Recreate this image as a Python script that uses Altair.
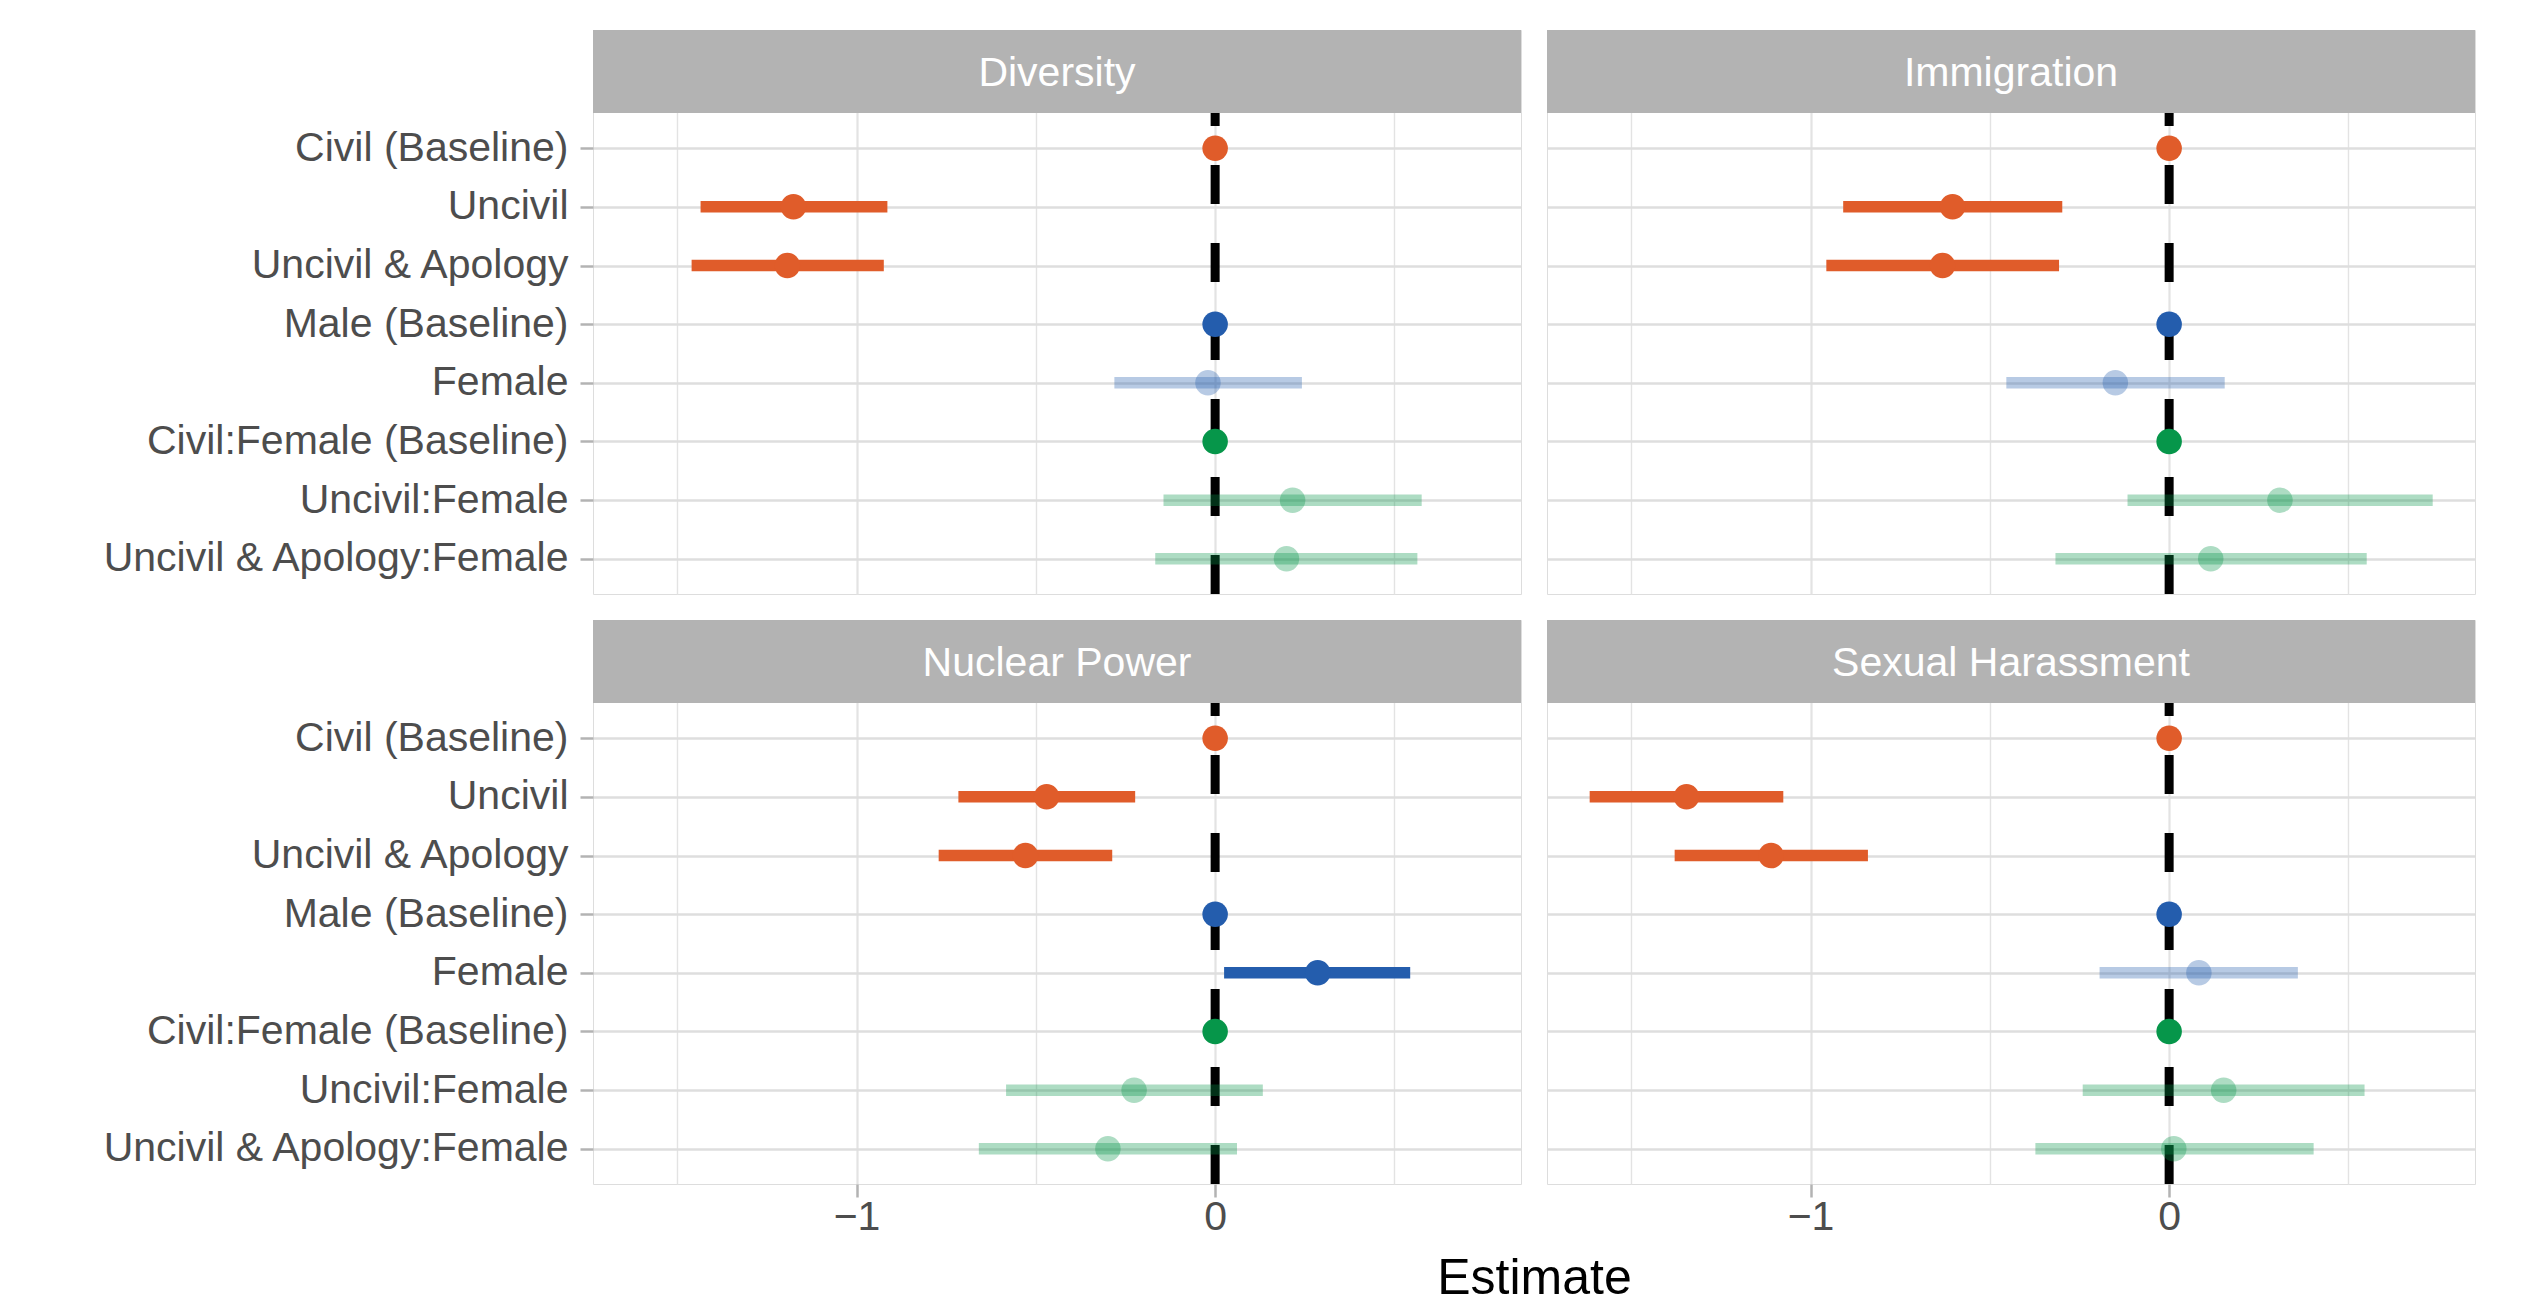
import json
import altair as alt
import pandas as pd

# ---------------- data ----------------
terms = ["Civil (Baseline)", "Uncivil", "Uncivil & Apology", "Male (Baseline)",
         "Female", "Civil:Female (Baseline)", "Uncivil:Female", "Uncivil & Apology:Female"]
groups = ["civ", "civ", "civ", "gen", "gen", "int", "int", "int"]
baseline = [True, False, False, True, False, True, False, False]
topics = ["Diversity", "Immigration", "Nuclear Power", "Sexual Harassment"]

est_diversity = [0, -1.176, -1.193, 0, -0.020, 0, 0.216, 0.199]
lo_diversity = [None, -1.435, -1.460, None, -0.281, None, -0.144, -0.167]
hi_diversity = [None, -0.914, -0.924, None, 0.242, None, 0.576, 0.564]

est_immigration = [0, -0.604, -0.632, 0, -0.150, 0, 0.309, 0.116]
lo_immigration = [None, -0.909, -0.956, None, -0.454, None, -0.116, -0.317]
hi_immigration = [None, -0.298, -0.307, None, 0.155, None, 0.735, 0.551]

est_nuclear = [0, -0.470, -0.529, 0, 0.286, 0, -0.226, -0.299]
lo_nuclear = [None, -0.716, -0.771, None, 0.025, None, -0.583, -0.659]
hi_nuclear = [None, -0.223, -0.287, None, 0.544, None, 0.133, 0.061]

est_harassment = [0, -1.346, -1.110, 0, 0.083, 0, 0.152, 0.013]
lo_harassment = [None, -1.616, -1.379, None, -0.194, None, -0.241, -0.373]
hi_harassment = [None, -1.076, -0.840, None, 0.359, None, 0.545, 0.403]

series = {
    "Diversity": (est_diversity, lo_diversity, hi_diversity),
    "Immigration": (est_immigration, lo_immigration, hi_immigration),
    "Nuclear Power": (est_nuclear, lo_nuclear, hi_nuclear),
    "Sexual Harassment": (est_harassment, lo_harassment, hi_harassment),
}

group_domain = ["civ", "gen", "int"]
group_colors = ["#E05C2A", "#245DAD", "#06964A"]

rows = []
for t in topics:
    est, lo, hi = series[t]
    for i, term in enumerate(terms):
        sig = baseline[i] or (lo[i] is not None and (lo[i] > 0 or hi[i] < 0))
        rows.append({"topic": t, "term": term, "pos": i + 1, "group": groups[i],
                     "est": est[i], "lo": lo[i], "hi": hi[i],
                     "alpha": 1.0 if sig else 0.33})
df = pd.DataFrame(rows)

# ---------------- layout ----------------
FONT = "Liberation Sans"
W = 928
GAP = 26
PANEL_H = 481
STRIP_H = 83
H = PANEL_H + STRIP_H
N = len(terms)
step = PANEL_H / (N - 1 + 2 * 0.6)
y_top = 0.4 - STRIP_H / step
y_dom = [y_top, N + 0.6]
x_dom = [-1.735, 0.853]

label_expr = json.dumps(terms) + "[datum.value - 1]"
x_vals = [-1.5, -1, -0.5, 0, 0.5]
grid_w = {"condition": {"test": "datum.value % 1 === 0", "value": 2.2}, "value": 1.4}


def panel(topic, show_y, show_x, x_title=None):
    d = df[df.topic == topic]
    base = alt.Chart(d)

    if show_x:
        if x_title:
            kw = dict(title=x_title, titleFontSize=50, titleFont=FONT, titleColor="black",
                      titleFontWeight="normal", titleX=W + GAP / 2, titleAlign="center",
                      titlePadding=16)
        else:
            kw = dict(title=None)
        xaxis = alt.Axis(values=x_vals, grid=True, domain=False,
                         labelExpr="datum.value === -1 ? '\u22121' : (datum.value === 0 ? '0' : '')",
                         labelFontSize=41, labelColor="#4D4D4D", labelFont=FONT, labelPadding=0,
                         tickSize=13, tickColor="#B3B3B3", tickWidth=2.5,
                         tickOpacity={"condition": {"test": "datum.value % 1 === 0", "value": 1}, "value": 0},
                         gridColor="#E3E3E3", gridWidth=grid_w, **kw)
    else:
        xaxis = alt.Axis(values=x_vals, title=None, grid=True, domain=False, labels=False, ticks=False,
                         gridColor="#E3E3E3", gridWidth=grid_w)
    if show_y:
        yaxis = alt.Axis(values=list(range(1, N + 1)), labelExpr=label_expr, title=None, grid=True,
                         domain=False, gridColor="#DEDEDE", gridWidth=2.5, labelLimit=1000,
                         labelFontSize=41, labelColor="#4D4D4D", labelFont=FONT, labelPadding=12,
                         tickSize=13, tickColor="#B3B3B3", tickWidth=2.5)
    else:
        yaxis = alt.Axis(values=list(range(1, N + 1)), title=None, grid=True, domain=False,
                         labels=False, ticks=False, gridColor="#DEDEDE", gridWidth=2.5)

    xs = alt.Scale(domain=x_dom, nice=False, zero=False)
    ys = alt.Scale(domain=y_dom, nice=False, zero=False, reverse=True)

    color = alt.Color("group:N", scale=alt.Scale(domain=group_domain, range=group_colors), legend=None)
    opacity = alt.Opacity("alpha:Q", scale=None)

    strip_df = pd.DataFrame({"topic": [topic], "zero": [0.0]})
    strip = alt.Chart(strip_df).mark_rect(color="#B3B3B3").encode(
        x=alt.value(0), x2=alt.value(W), y=alt.value(0), y2=alt.value(STRIP_H))
    strip_text = alt.Chart(strip_df).mark_text(color="white", fontSize=41, font=FONT,
                                               baseline="middle", align="center").encode(
        text="topic:N", x=alt.value(W / 2), y=alt.value(STRIP_H / 2 + 2))

    vline = alt.Chart(strip_df).mark_rule(color="black", strokeWidth=9, strokeDash=[39, 39],
                                          strokeCap="butt").encode(
        x=alt.X("zero:Q", scale=xs, axis=xaxis), y=alt.value(H), y2=alt.value(STRIP_H))

    bars = base.transform_filter("isValid(datum.lo)").mark_rule(strokeWidth=11.5, strokeCap="butt").encode(
        x=alt.X("lo:Q", scale=xs, axis=xaxis), x2="hi:Q",
        y=alt.Y("pos:Q", scale=ys, axis=yaxis), color=color, opacity=opacity)

    pts = base.mark_circle(size=650).encode(
        x=alt.X("est:Q", scale=xs, axis=xaxis),
        y=alt.Y("pos:Q", scale=ys, axis=yaxis), color=color, opacity=opacity)

    return alt.layer(strip, vline, bars, pts, strip_text).properties(width=W, height=H)


chart = alt.ConcatChart(
    concat=[panel("Diversity", True, False), panel("Immigration", False, False),
            panel("Nuclear Power", True, True, "Estimate"), panel("Sexual Harassment", False, True)],
    columns=2, spacing=GAP, bounds="flush",
    padding={"left": 92, "top": 21, "right": 5, "bottom": 0},
).configure_view(stroke="#B3B3B3", strokeWidth=3).configure(font=FONT, background="white")

chart.save("out.html", embed_options={"renderer": "svg", "actions": False})
